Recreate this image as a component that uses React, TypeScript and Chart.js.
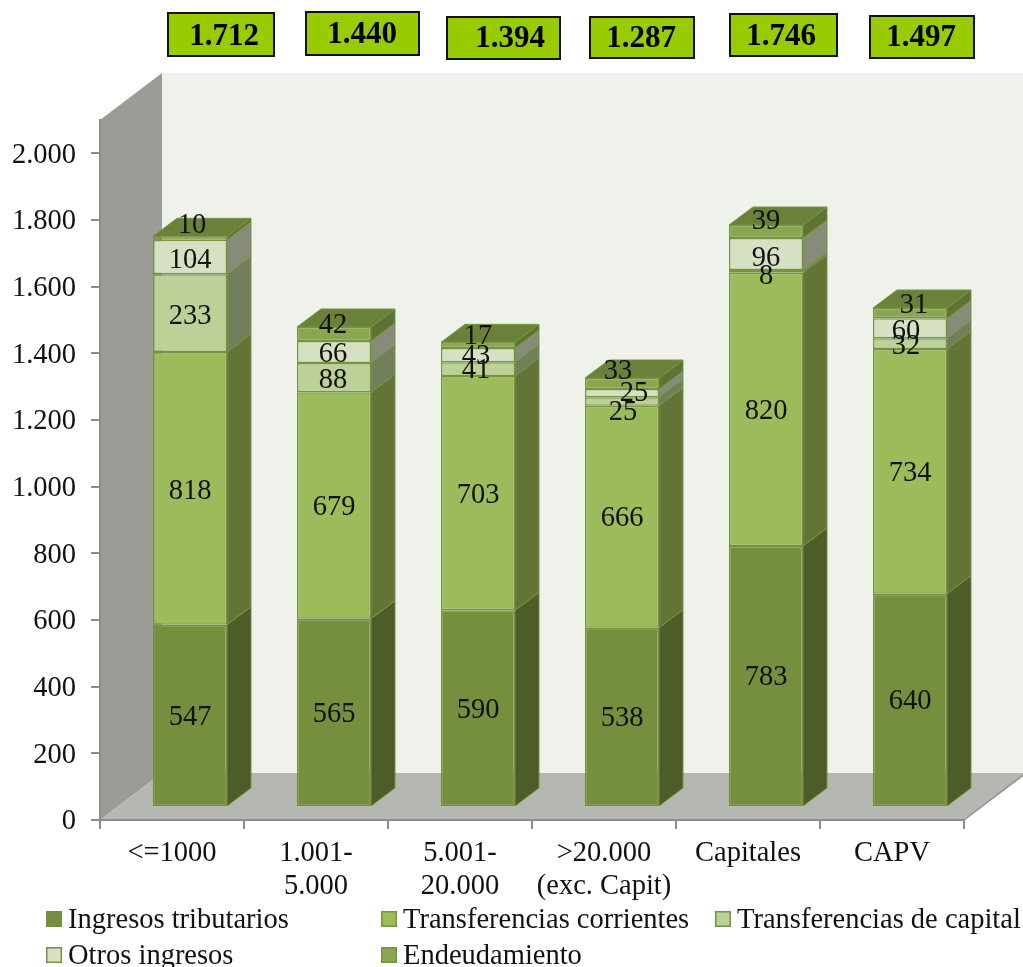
import React, { useEffect, useRef } from "react";
import { Chart, registerables } from "chart.js";

Chart.register(...registerables);

const categories = [["<=1000"], ["1.001-", "5.000"], ["5.001-", "20.000"], [">20.000", "(exc. Capit)"], ["Capitales"], ["CAPV"]];
const ingresosTributarios = [547, 565, 590, 538, 783, 640];
const transferenciasCorrientes = [818, 679, 703, 666, 820, 734];
const transferenciasCapital = [233, 88, 41, 25, 8, 32];
const otrosIngresos = [104, 66, 43, 25, 96, 60];
const endeudamiento = [10, 42, 17, 33, 39, 31];
const totals = ["1.712", "1.440", "1.394", "1.287", "1.746", "1.497"];

const FONT = '"Liberation Serif", serif';
const FS = 28.5;
const DEPTH_X = 62, DEPTH_Y = 47;
const BAR_SHIFT_X = 18, BAR_SHIFT_Y = -13;
const BAR_DX = 24, BAR_DY = 18;
const TEXT_DROP = 2;

const seriesStyles = [
  { fill: "#768f3f", side: "#4c5d2a", border: "#768f3f" },
  { fill: "#9cbb5a", side: "#637536", border: "#769440" },
  { fill: "#bdd097", side: "#71805a", border: "#769440" },
  { fill: "#d5e1c2", side: "#868c78", border: "#769440" },
  { fill: "#8aa64e", side: "#5d7333", border: "#769440" },
];

// box rectangle [x, y, w, h] and text centre [x, y] of each total label
const boxRects = [[167, 12, 108, 45], [305, 11, 115, 45], [446, 16, 115, 44], [589, 16, 106, 43], [729, 13, 109, 44], [869, 15, 106, 44]];
const boxText = [[224, 35], [362, 33], [510, 37], [641, 37], [781, 35], [921, 36]];

// hand placed data labels in the source: "series:category" -> [dx, dy]
const labelNudge: Record<string, [number, number]> = {
  "4:0": [2, -14], "3:0": [0, 2], "2:0": [0, 1], "1:0": [0, 1],
  "4:1": [-1, -10], "3:1": [-1, 1], "2:1": [-1, 1],
  "4:2": [0, -11], "3:2": [-2, -1], "2:2": [-2, -1],
  "4:3": [-4, -14], "3:3": [12, -2], "2:3": [1, 9],
  "4:4": [0, -12], "3:4": [0, 3], "2:4": [0, 3],
  "4:5": [4, -10], "3:5": [-4, 1], "2:5": [-4, 1],
};

const legendPos = [[46, 919], [381, 919], [715, 919], [46, 955], [381, 955]];

const poly = (ctx: CanvasRenderingContext2D, pts: number[][], fill?: string, stroke?: string, lw = 1) => {
  ctx.beginPath();
  pts.forEach(([x, y], i) => (i ? ctx.lineTo(x, y) : ctx.moveTo(x, y)));
  ctx.closePath();
  if (fill) { ctx.fillStyle = fill; ctx.fill(); }
  if (stroke) { ctx.strokeStyle = stroke; ctx.lineWidth = lw; ctx.stroke(); }
};

const scenePlugin = {
  id: "scene",
  beforeDraw(chart: any) {
    const { ctx, chartArea: a } = chart;
    ctx.save();
    poly(ctx, [[a.left + DEPTH_X, a.top - DEPTH_Y], [1023, a.top - DEPTH_Y], [1023, a.bottom - DEPTH_Y], [a.left + DEPTH_X, a.bottom - DEPTH_Y]], "#eff2eb");
    poly(ctx, [[a.left, a.top], [a.left + DEPTH_X, a.top - DEPTH_Y], [a.left + DEPTH_X, a.bottom - DEPTH_Y], [a.left, a.bottom]], "#9a9c95");
    poly(ctx, [[a.left, a.bottom], [a.right, a.bottom], [a.right + DEPTH_X, a.bottom - DEPTH_Y], [a.left + DEPTH_X, a.bottom - DEPTH_Y]], "#b5b8b0");
    ctx.strokeStyle = "#8f918b";
    ctx.lineWidth = 1.5;
    ctx.beginPath();
    ctx.moveTo(a.right, a.bottom);
    ctx.lineTo(a.right + DEPTH_X, a.bottom - DEPTH_Y);
    ctx.stroke();
    ctx.restore();
  },
  beforeDatasetsDraw(chart: any) {
    chart.ctx.save();
    chart.ctx.translate(BAR_SHIFT_X, BAR_SHIFT_Y);
  },
  afterDatasetsDraw(chart: any) {
    const { ctx } = chart;
    ctx.restore();
    ctx.save();
    const n = chart.data.datasets.length;
    chart.data.datasets.forEach((_: any, s: number) => {
      chart.getDatasetMeta(s).data.forEach((el: any) => {
        const { x, y, base, width } = el.getProps(["x", "y", "base", "width"], true);
        const r = x + width / 2 + BAR_SHIFT_X;
        const l = x - width / 2 + BAR_SHIFT_X;
        const top = y + BAR_SHIFT_Y;
        const bot = base + BAR_SHIFT_Y;
        poly(ctx, [[r, top], [r + BAR_DX, top - BAR_DY], [r + BAR_DX, bot - BAR_DY], [r, bot]], seriesStyles[s].side, seriesStyles[s].border, 1);
        if (s === n - 1) {
          poly(ctx, [[l, top], [l + BAR_DX, top - BAR_DY], [r + BAR_DX, top - BAR_DY], [r, top]], "#6b8039", "#769440", 1);
        }
      });
    });
    // data labels
    ctx.fillStyle = "#111";
    ctx.font = `${FS}px ${FONT}`;
    ctx.textAlign = "center";
    ctx.textBaseline = "middle";
    chart.data.datasets.forEach((ds: any, s: number) => {
      chart.getDatasetMeta(s).data.forEach((el: any, c: number) => {
        const { x, y, base } = el.getProps(["x", "y", "base"], true);
        const [dx, dy] = labelNudge[`${s}:${c}`] || [0, 0];
        ctx.fillText(String(ds.data[c]), x + BAR_SHIFT_X + dx, (y + base) / 2 + BAR_SHIFT_Y + dy + TEXT_DROP);
      });
    });
    ctx.restore();
  },
  afterDraw(chart: any) {
    const { ctx } = chart;
    ctx.save();
    // total boxes
    totals.forEach((t, i) => {
      const [x, y, w, h] = boxRects[i];
      ctx.fillStyle = "#99cc00";
      ctx.fillRect(x, y, w, h);
      ctx.strokeStyle = "#111";
      ctx.lineWidth = 2;
      ctx.strokeRect(x + 1, y + 1, w - 2, h - 2);
      ctx.fillStyle = "#000";
      ctx.font = `bold 31px ${FONT}`;
      ctx.textAlign = "center";
      ctx.textBaseline = "middle";
      ctx.fillText(t, boxText[i][0], boxText[i][1] + TEXT_DROP);
    });
    // legend
    ctx.font = `${FS}px ${FONT}`;
    ctx.textAlign = "left";
    ctx.textBaseline = "middle";
    chart.data.datasets.forEach((ds: any, i: number) => {
      const [x, y] = legendPos[i];
      ctx.fillStyle = ds.backgroundColor;
      ctx.fillRect(x, y - 8, 16, 16);
      ctx.strokeStyle = i === 0 ? ds.backgroundColor : "#769440";
      ctx.lineWidth = 1.5;
      ctx.strokeRect(x + 0.75, y - 7.25, 14.5, 14.5);
      ctx.fillStyle = "#111";
      ctx.fillText(ds.label, x + 22, y + TEXT_DROP);
    });
    ctx.restore();
  },
};

export default function App() {
  const ref = useRef<HTMLCanvasElement>(null);
  useEffect(() => {
    document.body.style.margin = "0";
    const names = ["Ingresos tributarios", "Transferencias corrientes", "Transferencias de capital", "Otros ingresos", "Endeudamiento"];
    const values = [ingresosTributarios, transferenciasCorrientes, transferenciasCapital, otrosIngresos, endeudamiento];
    const chart = new Chart(ref.current!, {
      type: "bar",
      data: {
        labels: categories as any,
        datasets: names.map((label, i) => ({
          label,
          data: values[i],
          backgroundColor: seriesStyles[i].fill,
          borderColor: seriesStyles[i].border,
          borderWidth: 1.5,
          borderSkipped: false,
          clip: false as any,
          categoryPercentage: 1,
          barPercentage: 0.514,
        })),
      },
      options: {
        animation: false,
        responsive: false,
        layout: { padding: { top: 120, right: 59, left: 0, bottom: 0 } },
        plugins: { legend: { display: false }, tooltip: { enabled: false } },
        scales: {
          x: {
            stacked: true,
            afterFit: (s: any) => { s.height = 147; },
            grid: { drawOnChartArea: false, color: "#8c8c8c", tickLength: 9, lineWidth: 2 },
            border: { color: "#8c8c8c", width: 2 },
            ticks: { font: { family: FONT, size: FS, lineHeight: 1.15 }, color: "#111", padding: 8, maxRotation: 0, autoSkip: false },
          },
          y: {
            stacked: true,
            min: 0,
            max: 2100,
            afterFit: (s: any) => { s.width = 100; },
            grid: { drawOnChartArea: false, color: "#8c8c8c", tickLength: 9, lineWidth: 2 },
            border: { color: "#8c8c8c", width: 2 },
            ticks: {
              stepSize: 200,
              includeBounds: false,
              font: { family: FONT, size: FS },
              color: "#111",
              padding: 15,
              labelOffset: 2,
              callback: (v: any) => (v >= 1000 ? `${Math.floor(v / 1000)}.${String(v % 1000).padStart(3, "0")}` : String(v)),
            },
          },
        },
      },
      plugins: [scenePlugin],
    } as any);
    return () => chart.destroy();
  }, []);
  return (
    <div style={{ position: "absolute", left: 0, top: 0, width: 1023, height: 967, background: "#fff" }}>
      <canvas ref={ref} width={1023} height={967} style={{ display: "block" }} />
    </div>
  );
}
